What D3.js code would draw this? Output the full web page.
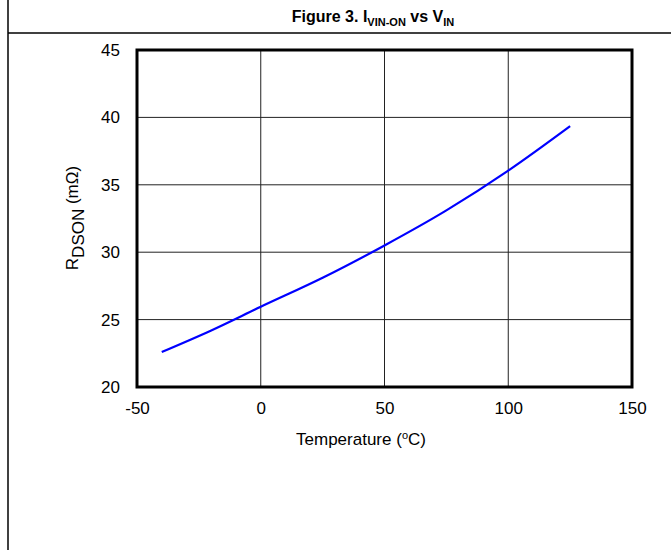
<!DOCTYPE html>
<html>
<head>
<meta charset="utf-8">
<script src="https://cdn.jsdelivr.net/npm/d3@7"></script>
<style>
  body { margin: 0; background: #fff; }
  svg { display: block; font-family: "Liberation Sans", Arial, sans-serif; }
</style>
</head>
<body>
<svg id="chart" width="671" height="550"></svg>
<script>
// data
var temps = [-40, -20, 0, 25, 50, 75, 100, 125];
var rdson = [22.6, 24.2, 25.95, 28.1, 30.5, 33.1, 36.05, 39.35];
var xTicks = [-50, 0, 50, 100, 150];
var yTicks = [20, 25, 30, 35, 40, 45];

var svg = d3.select("#chart");

// frame lines
svg.append("line")
    .attr("x1", 8).attr("y1", 0).attr("x2", 8).attr("y2", 550)
    .attr("stroke", "black").attr("stroke-width", 1.5);
svg.append("line")
    .attr("x1", 8).attr("y1", 33).attr("x2", 671).attr("y2", 33)
    .attr("stroke", "black").attr("stroke-width", 1.5);

// title
var title = svg.append("text")
    .attr("x", 373).attr("y", 22)
    .attr("text-anchor", "middle")
    .style("font-size", "16px")
    .style("font-weight", "bold");
title.append("tspan").text("Figure 3. I");
title.append("tspan").attr("dy", 4).style("font-size", "11px").text("VIN-ON");
title.append("tspan").attr("dy", -4).text(" vs V");
title.append("tspan").attr("dy", 4).style("font-size", "11px").text("IN");

var pLeft = 137, pRight = 632, pTop = 50, pBottom = 387;

var x = d3.scaleLinear().domain([-50, 150]).range([pLeft, pRight]);
var y = d3.scaleLinear().domain([20, 45]).range([pBottom, pTop]);

// grid
svg.append("g")
    .selectAll("line")
    .data(xTicks.slice(1, -1))
    .enter()
    .append("line")
    .attr("x1", function(d) { return x(d); })
    .attr("x2", function(d) { return x(d); })
    .attr("y1", pTop).attr("y2", pBottom)
    .attr("stroke", "#222").attr("stroke-width", 1);

svg.append("g")
    .selectAll("line")
    .data(yTicks.slice(1, -1))
    .enter()
    .append("line")
    .attr("y1", function(d) { return y(d); })
    .attr("y2", function(d) { return y(d); })
    .attr("x1", pLeft).attr("x2", pRight)
    .attr("stroke", "#222").attr("stroke-width", 1);

// axes (labels only)
var xAxis = svg.append("g")
    .attr("transform", "translate(0," + pBottom + ")")
    .call(d3.axisBottom(x).tickValues(xTicks).tickSize(0).tickPadding(15)
        .tickFormat(function(d) { return String(d); }));
var yAxis = svg.append("g")
    .attr("transform", "translate(" + pLeft + ",0)")
    .call(d3.axisLeft(y).tickValues(yTicks).tickSize(0).tickPadding(17));

[xAxis, yAxis].forEach(function(a) {
    a.select(".domain").remove();
    a.selectAll("text")
        .style("font-size", "17px")
        .style("font-family", "'Liberation Sans', Arial, sans-serif")
        .attr("fill", "black");
});

// border
svg.append("rect")
    .attr("x", pLeft).attr("y", pTop)
    .attr("width", pRight - pLeft).attr("height", pBottom - pTop)
    .attr("fill", "none").attr("stroke", "black").attr("stroke-width", 3);

// curve
var pts = temps.map(function(t, i) { return [t, rdson[i]]; });
var line = d3.line()
    .x(function(d) { return x(d[0]); })
    .y(function(d) { return y(d[1]); })
    .curve(d3.curveMonotoneX);

svg.append("path")
    .datum(pts)
    .attr("d", line)
    .attr("fill", "none")
    .attr("stroke", "#0000ff")
    .attr("stroke-width", 2.2);

// x title
var xt = svg.append("text")
    .attr("x", 361).attr("y", 445)
    .attr("text-anchor", "middle")
    .style("font-size", "17px");
xt.append("tspan").text("Temperature (");
xt.append("tspan").attr("dy", -6).style("font-size", "11px").text("o");
xt.append("tspan").attr("dy", 6).text("C)");

// y title
var yt = svg.append("text")
    .attr("transform", "translate(78,218) rotate(-90)")
    .attr("text-anchor", "middle")
    .style("font-size", "17px");
yt.append("tspan").text("R");
yt.append("tspan").attr("dy", 6).text("DSON");
yt.append("tspan").attr("dy", -6).text(" (m\u03A9)");
</script>
</body>
</html>
